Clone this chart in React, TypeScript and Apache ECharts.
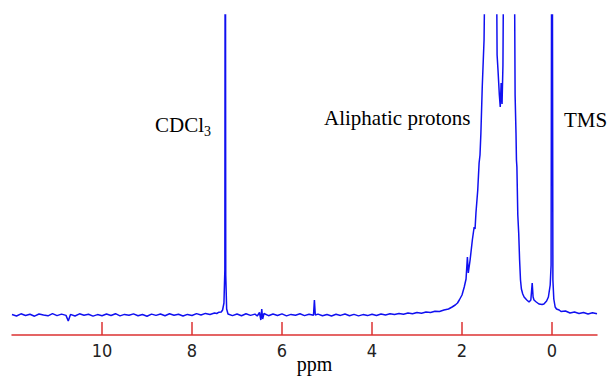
import React, { useEffect, useRef } from "react";
import * as echarts from "echarts";

// Chemical shift (ppm) and intensity
const spectrum: [number, number][] = [
  [12.0, 0.05], [11.9, -0.1], [11.8, 0.12], [11.7, -0.05], [11.6, 0.08], [11.5, -0.12],
  [11.4, 0.1], [11.3, 0.0], [11.2, -0.08], [11.1, 0.14], [11.0, -0.06], [10.9, 0.09],
  [10.8, -0.04], [10.75, -0.6], [10.7, 0.06], [10.6, -0.1], [10.5, 0.12], [10.4, -0.02],
  [10.3, 0.07], [10.2, -0.11], [10.1, 0.04], [10.0, -0.07], [9.9, 0.1], [9.8, -0.05],
  [9.7, 0.13], [9.6, -0.09], [9.5, 0.06], [9.4, -0.03], [9.3, 0.11], [9.2, -0.08],
  [9.1, 0.05], [9.0, -0.12], [8.9, 0.09], [8.8, -0.04], [8.7, 0.1], [8.6, -0.07],
  [8.5, 0.12], [8.4, -0.02], [8.3, 0.08], [8.2, -0.1], [8.1, 0.06], [8.0, -0.05],
  [7.9, 0.14], [7.8, 0.0], [7.7, 0.16], [7.6, 0.05], [7.5, 0.2], [7.45, 0.15],
  [7.4, 0.28], [7.35, 0.3], [7.32, 0.5], [7.29, 1.2], [7.27, 4.5], [7.26, 60],
  [7.25, 4.0], [7.23, 0.6], [7.2, 0.1], [7.1, -0.06], [7.0, 0.1], [6.9, -0.08],
  [6.8, 0.12], [6.7, -0.04], [6.6, 0.09], [6.55, -0.1], [6.5, 0.25], [6.47, -0.5],
  [6.45, 0.6], [6.43, -0.4], [6.4, 0.15], [6.3, -0.07], [6.2, 0.1], [6.1, -0.05],
  [6.0, 0.11], [5.9, -0.09], [5.8, 0.06], [5.7, -0.03], [5.6, 0.12], [5.5, -0.06],
  [5.4, 0.08], [5.3, -0.02], [5.28, 1.5], [5.26, 0.0], [5.2, 0.09], [5.1, -0.08],
  [5.0, 0.05], [4.9, -0.1], [4.8, 0.07], [4.7, -0.04], [4.6, 0.1], [4.5, -0.07],
  [4.4, 0.06], [4.3, -0.09], [4.2, 0.04], [4.1, -0.06], [4.0, 0.08], [3.9, -0.05],
  [3.8, 0.1], [3.7, 0.0], [3.6, 0.12], [3.5, 0.05], [3.4, 0.15], [3.3, 0.08],
  [3.2, 0.2], [3.1, 0.12], [3.0, 0.25], [2.9, 0.18], [2.8, 0.3], [2.7, 0.25],
  [2.6, 0.38], [2.5, 0.35], [2.4, 0.5], [2.3, 0.6], [2.22, 0.8], [2.15, 1.0],
  [2.1, 1.2], [2.06, 1.5], [2.0, 2.0], [1.95, 2.8], [1.91, 3.6], [1.88, 5.8],
  [1.86, 4.2], [1.82, 5.5], [1.77, 7.5], [1.73, 8.8], [1.71, 8.6], [1.69, 10.2],
  [1.65, 12.5], [1.62, 15.2], [1.6, 16.0], [1.58, 18.2], [1.55, 22.8], [1.51, 27.5],
  [1.49, 35], [1.45, 60], [1.3, 60], [1.24, 40], [1.22, 26], [1.2, 24.5],
  [1.17, 22], [1.15, 20.8], [1.13, 23.2], [1.11, 21.1], [1.09, 25], [1.07, 40],
  [1.05, 60], [0.9, 60], [0.84, 40], [0.82, 22], [0.8, 18.2], [0.79, 15.5],
  [0.78, 14.8], [0.76, 10], [0.74, 8.2], [0.72, 5.5], [0.7, 3.5], [0.68, 2.6],
  [0.65, 2.1], [0.62, 1.8], [0.56, 1.5], [0.51, 1.3], [0.47, 1.5], [0.44, 3.2],
  [0.42, 1.8], [0.4, 1.5], [0.35, 1.3], [0.29, 1.1], [0.22, 1.05], [0.18, 1.1],
  [0.12, 1.4], [0.08, 1.8], [0.04, 3.0], [0.02, 5], [0.0, 60], [-0.02, 3.5],
  [-0.04, 1.6], [-0.07, 0.8], [-0.1, 0.6], [-0.16, 0.5], [-0.2, 0.35], [-0.3, 0.4],
  [-0.4, 0.2], [-0.5, 0.3], [-0.6, 0.15], [-0.7, 0.25], [-0.8, 0.1], [-0.9, 0.22],
  [-1.0, 0.12],
];

const tickValues = [0, 2, 4, 6, 8, 10];
const axisTitle = "ppm";
const peakLabels = ["CDCl", "3", "Aliphatic protons", "TMS"];

const RED = "#dc3232";
const BLUE = "#1010f0";
const SERIF = "'Liberation Serif', 'Times New Roman', serif";

export default function App() {
  const ref = useRef<HTMLDivElement>(null);
  useEffect(() => {
    if (!ref.current) return;
    const chart = echarts.init(ref.current, null, { renderer: "svg" });
    const textStyle = (text: string, size: number, x: number, y: number) => ({
      type: "text",
      x,
      y,
      style: {
        text,
        fill: "#000",
        fontSize: size,
        fontFamily: SERIF,
        align: "left",
        verticalAlign: "middle",
        textAlign: "left",
        textVerticalAlign: "middle",
      },
    });
    chart.setOption({
      animation: false,
      backgroundColor: "#fff",
      grid: { left: 12, right: 12, top: 15, bottom: 41, containLabel: false, outerBoundsMode: "none" },
      xAxis: {
        type: "value",
        min: -1,
        max: 12,
        inverse: true,
        splitLine: { show: false },
        axisLine: { show: true, onZero: false, lineStyle: { color: RED, width: 1.5 } },
        axisTick: { show: true, inside: true, length: 13, customValues: tickValues, lineStyle: { color: RED, width: 1.5 } },
        axisLabel: {
          customValues: tickValues,
          color: "#222",
          fontSize: 18,
          fontFamily: "'DejaVu Sans Condensed', 'Liberation Sans Narrow', 'Arial Narrow', sans-serif",
          margin: 6,
        },
        name: axisTitle,
        nameLocation: "middle",
        nameGap: 19,
        nameMoveOverlap: false,
        nameTextStyle: { fontFamily: SERIF, fontSize: 20, color: "#000", padding: [0, 0, 0, 20] },
      },
      yAxis: { type: "value", min: -2, max: 30, show: false },
      series: [
        {
          type: "line",
          data: spectrum,
          symbol: "none",
          clip: true,
          lineStyle: { color: BLUE, width: 1.5 },
        },
      ],
      graphic: [
        textStyle(peakLabels[0], 21, 155, 125),
        textStyle(peakLabels[1], 14, 204, 131),
        textStyle(peakLabels[2], 21, 324, 118),
        textStyle(peakLabels[3], 21, 564, 120),
      ],
    });
    return () => chart.dispose();
  }, []);
  return <div ref={ref} style={{ position: "fixed", left: 0, top: 0, width: 609, height: 376 }} />;
}
